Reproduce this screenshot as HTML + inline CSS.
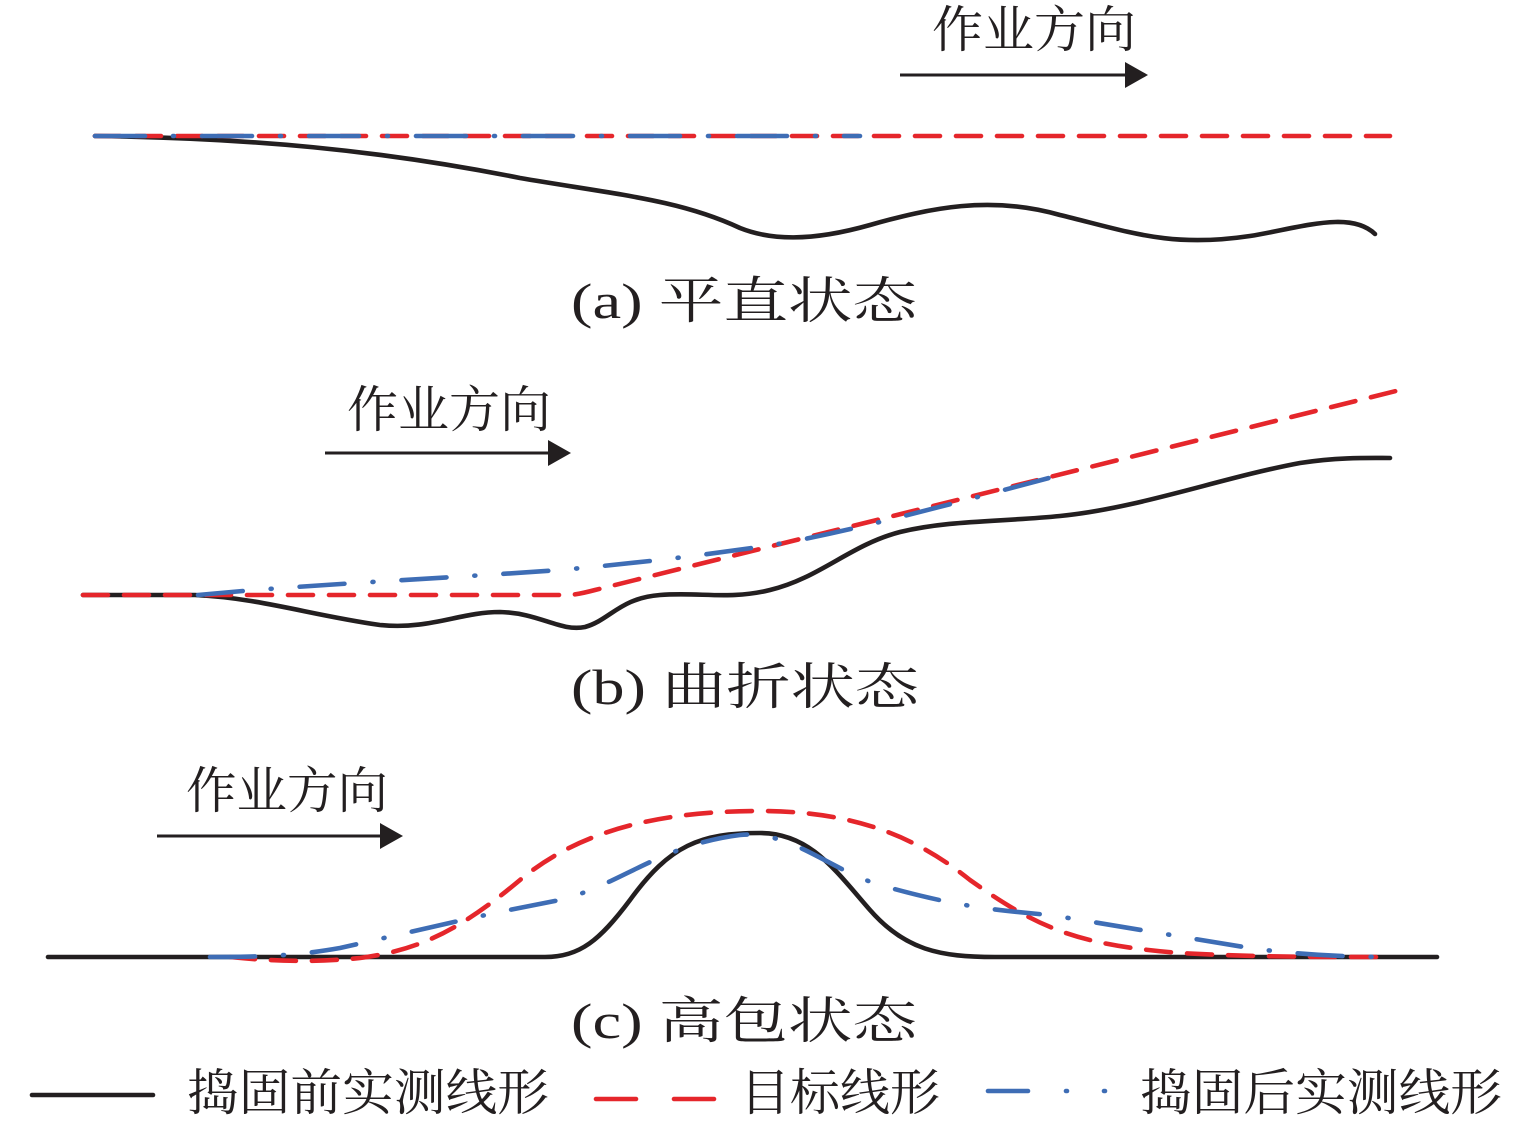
<!DOCTYPE html>
<html><head><meta charset="utf-8"><style>
html,body{margin:0;padding:0;background:#fff;}
svg{display:block;}
text{font-family:"Liberation Serif","Noto Serif CJK SC",serif;fill:#231f20;}
</style></head><body>
<svg width="1535" height="1122" viewBox="0 0 1535 1122" xmlns="http://www.w3.org/2000/svg">
<g fill="none" stroke-width="4.6" stroke-linecap="round">
<!-- (a) -->
<path d="M95,136 C250,138 380,150 520,178 C620,195 680,200 740,228 C770,240 810,242 870,225 C930,208 990,195 1060,215 C1130,232 1170,248 1250,236 C1300,228 1350,210 1375,234" stroke="#231f20"/>
<line x1="95" y1="136" x2="1390" y2="136" stroke="#e5262b" stroke-dasharray="25 16"/>
<line x1="95" y1="136" x2="860" y2="136" stroke="#3e6db5" stroke-dasharray="50 28 1 28"/>
<!-- (b) -->
<path d="M83,595 L195,595 C260,598 310,615 380,625 C430,630 460,612 500,612 C540,613 560,632 585,627 C610,620 620,598 660,595 C700,592 730,600 770,590 C820,578 850,545 900,532 C950,520 1000,522 1060,516 C1140,508 1220,478 1300,463 C1340,457 1370,458 1390,458" stroke="#231f20"/>
<path d="M83,595 L570,595 Q580,594 595,590 L1400,390" stroke="#e5262b" stroke-dasharray="25 16"/>
<path d="M198,595 C300,585 450,578 560,570 C650,562 730,552 790,542 C850,530 900,518 1060,475" stroke="#3e6db5" stroke-dasharray="45 28 1 28"/>
<!-- (c) -->
<path d="M48,957 L545,957 C580,957 600,940 630,900 C670,845 700,833 760,833 C810,833 835,870 870,910 C905,950 940,957 995,957 L1437,957" stroke="#231f20"/>
<path d="M230,957 C280,962 320,962 360,958 C420,950 460,930 520,880 C580,830 660,811 760,811 C860,811 920,840 970,880 C1040,930 1080,945 1180,953 C1250,957 1320,957 1390,957" stroke="#e5262b" stroke-dasharray="25 16"/>
<path d="M210,957 C270,957 300,955 340,948 C420,930 480,915 560,900 C620,885 660,845 740,835 C790,830 830,870 880,885 C950,905 990,910 1050,915 C1130,928 1200,940 1250,948 C1300,955 1350,957 1390,957" stroke="#3e6db5" stroke-dasharray="45 28 1 28"/>
<!-- legend -->
<line x1="32" y1="1095" x2="153" y2="1095" stroke="#231f20"/>
<line x1="596" y1="1099" x2="714" y2="1099" stroke="#e5262b" stroke-dasharray="40 38"/>
<line x1="988" y1="1091" x2="1028" y2="1091" stroke="#3e6db5"/>
<line x1="1066" y1="1091" x2="1067" y2="1091" stroke="#3e6db5"/>
<line x1="1104" y1="1091" x2="1105" y2="1091" stroke="#3e6db5"/>
</g>
<g stroke="#231f20" stroke-width="3">
<line x1="900" y1="75" x2="1128" y2="75"/>
<line x1="325" y1="453" x2="550" y2="453"/>
<line x1="157" y1="836" x2="383" y2="836"/>
</g>
<g fill="#231f20">
<polygon points="1125,62 1148,75 1125,88"/>
<polygon points="548,440 571,453 548,466"/>
<polygon points="380,823 403,836 380,849"/>
</g>
<g font-size="50">
<text x="932" y="47" textLength="204" lengthAdjust="spacingAndGlyphs">作业方向</text>
<text x="347" y="427" textLength="204" lengthAdjust="spacingAndGlyphs">作业方向</text>
<text x="186" y="808" textLength="202" lengthAdjust="spacingAndGlyphs">作业方向</text>
<text x="571" y="318" textLength="346" lengthAdjust="spacingAndGlyphs">(a) 平直状态</text>
<text x="571" y="704" textLength="348" lengthAdjust="spacingAndGlyphs">(b) 曲折状态</text>
<text x="571" y="1038" textLength="346" lengthAdjust="spacingAndGlyphs">(c) 高包状态</text>
<text x="187" y="1110" textLength="362" lengthAdjust="spacingAndGlyphs">捣固前实测线形</text>
<text x="740" y="1110" textLength="200" lengthAdjust="spacingAndGlyphs">目标线形</text>
<text x="1140" y="1110" textLength="362" lengthAdjust="spacingAndGlyphs">捣固后实测线形</text>
</g>
</svg>
</body></html>
